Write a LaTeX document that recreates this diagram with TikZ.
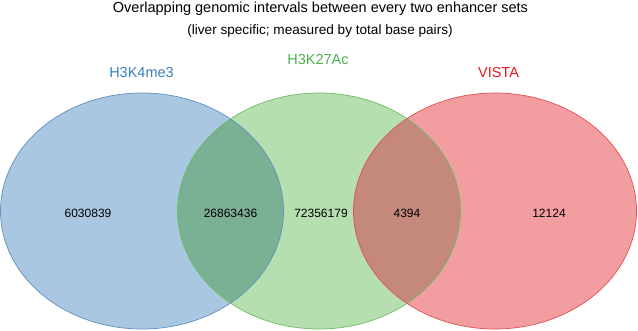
\documentclass[tikz,border=0pt]{standalone}
\usepackage{fontspec}
\setmainfont{Liberation Sans}
\definecolor{bfill}{RGB}{170,199,226}
\definecolor{gfill}{RGB}{181,223,174}
\definecolor{rfill}{RGB}{242,158,160}
\definecolor{bgfill}{RGB}{122,176,148}
\definecolor{grfill}{RGB}{196,137,122}
\definecolor{bedge}{RGB}{95,145,195}
\definecolor{gedge}{RGB}{110,188,100}
\definecolor{redge}{RGB}{226,80,82}
\definecolor{blab}{RGB}{55,126,184}
\definecolor{glab}{RGB}{77,175,74}
\definecolor{rlab}{RGB}{228,26,28}
\tikzset{
  ell/.style={x radius=141.5pt, y radius=118pt},
  numtxt/.style={font=\fontsize{12}{14}\selectfont, anchor=base, inner sep=0pt},
  labtxt/.style={font=\fontsize{14.5}{17}\selectfont, anchor=base, inner sep=0pt},
}
\begin{document}
\begin{tikzpicture}[x=1pt,y=-1pt]
\useasboundingbox (0,0) rectangle (638,330);
\coordinate (cb) at (142,211);
\coordinate (cg) at (319,211);
\coordinate (cr) at (495,211);
\fill[bfill] (cb) ellipse [ell];
\fill[gfill] (cg) ellipse [ell];
\fill[rfill] (cr) ellipse [ell];
\begin{scope}
  \clip (cb) ellipse [ell];
  \fill[bgfill] (cg) ellipse [ell];
\end{scope}
\begin{scope}
  \clip (cg) ellipse [ell];
  \fill[grfill] (cr) ellipse [ell];
\end{scope}
\draw[bedge, line width=0.7pt] (cb) ellipse [ell];
\draw[gedge, line width=0.7pt] (cg) ellipse [ell];
\draw[redge, line width=0.7pt] (cr) ellipse [ell];
\node[font=\fontsize{14.5}{17}\selectfont, anchor=base, inner sep=0pt] (title) at (320.5,12) {Overlapping genomic intervals between every two enhancer sets};
\node[font=\fontsize{13.6}{16}\selectfont, anchor=base, inner sep=0pt] (sub) at (320,34) {(liver specific; measured by total base pairs)};
\node[labtxt, text=blab] (lb) at (141.5,77) {H3K4me3};
\node[labtxt, text=glab] (lg) at (318,64) {H3K27Ac};
\node[labtxt, text=rlab] (lr) at (498.5,77) {VISTA};
\node[numtxt] (n1) at (88,217) {6030839};
\node[numtxt] (n2) at (230.5,217) {26863436};
\node[numtxt] (n3) at (321,217) {72356179};
\node[numtxt] (n4) at (407,217) {4394};
\node[numtxt] (n5) at (549,217) {12124};
\end{tikzpicture}
\end{document}
